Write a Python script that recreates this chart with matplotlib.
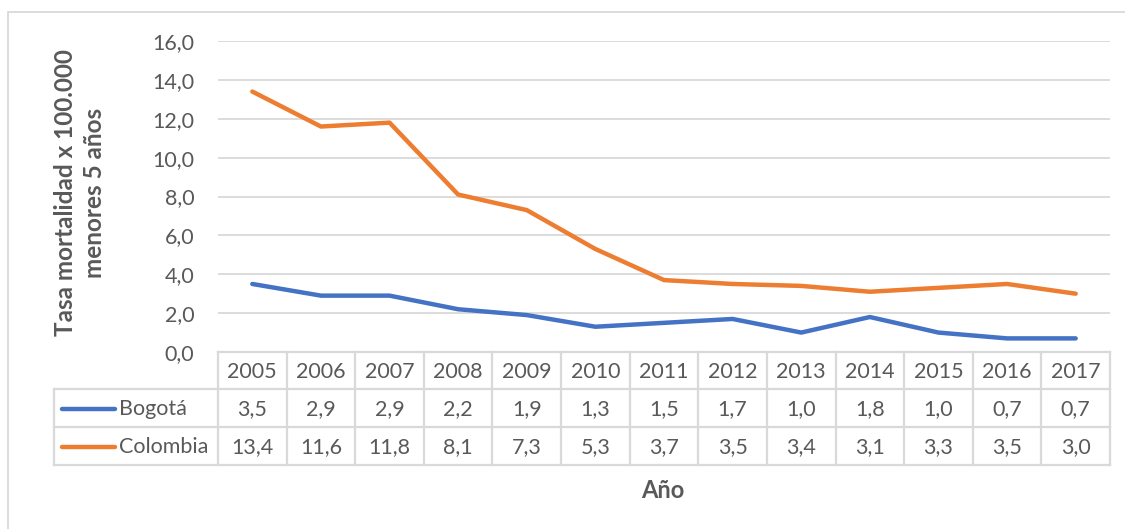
import matplotlib
matplotlib.use("Agg")
import matplotlib.pyplot as plt
import matplotlib.transforms as mtransforms
from matplotlib.lines import Line2D
from matplotlib.patches import Rectangle

years = ["2005", "2006", "2007", "2008", "2009", "2010", "2011",
         "2012", "2013", "2014", "2015", "2016", "2017"]
bogota = [3.5, 2.9, 2.9, 2.2, 1.9, 1.3, 1.5, 1.7, 1.0, 1.8, 1.0, 0.7, 0.7]
colombia = [13.4, 11.6, 11.8, 8.1, 7.3, 5.3, 3.7, 3.5, 3.4, 3.1, 3.3, 3.5, 3.0]
series_names = ["Bogotá", "Colombia"]
y_ticks = [0, 2, 4, 6, 8, 10, 12, 14, 16]
y_title = "Tasa mortalidad x 100.000\nmenores 5 años"
x_title = "Año"

BLUE = "#4472C4"
ORANGE = "#ED7D31"
TEXT = "#595959"
GRID = "#D9D9D9"
FONT = "Lato"

W, H = 1125, 529
fig = plt.figure(figsize=(W / 100, H / 100), dpi=100)


def fx(px):
    return px / W


def fy(py):
    return 1 - py / H


# outer chart border
fig.patches.append(Rectangle((fx(8), fy(600)), fx(1300), fy(12) - fy(600),
                             transform=fig.transFigure, fill=False,
                             edgecolor=GRID, linewidth=1.3))

left, right, top, bottom = 218, 1110, 41, 352
ax = fig.add_axes([fx(left), fy(bottom), fx(right - left), fy(top) - fy(bottom)])
x = list(range(len(years)))
ax.plot(x, bogota, color=BLUE, linewidth=3.2, solid_capstyle="round",
        solid_joinstyle="round", zorder=3)
ax.plot(x, colombia, color=ORANGE, linewidth=3.2, solid_capstyle="round",
        solid_joinstyle="round", zorder=3)
ax.set_xlim(-0.5, len(years) - 0.5)
ax.set_ylim(0, 16)
ax.set_yticks(y_ticks)
ax.set_yticklabels([f"{v:.1f}".replace(".", ",") for v in y_ticks],
                   fontsize=15.5, color=TEXT, family=FONT)
ax.tick_params(axis="y", length=0, pad=17)
ax.set_xticks([])
ax.grid(axis="y", color=GRID, linewidth=1.3)
ax.set_axisbelow(True)
for s in ax.spines.values():
    s.set_visible(False)

# data table below the plot
trans = mtransforms.blended_transform_factory(ax.transData, fig.transFigure)
row_edges = [352, 389, 427, 465]
lw = 1.6
n = len(years)
# horizontal lines
fig.add_artist(Line2D([-0.5, n - 0.5], [fy(row_edges[0])] * 2, transform=trans,
                      color=GRID, linewidth=lw))
for r in row_edges[1:]:
    fig.add_artist(Line2D([fx(54), fx(right)], [fy(r)] * 2,
                          transform=fig.transFigure, color=GRID, linewidth=lw))
# vertical lines
for i in range(n + 1):
    fig.add_artist(Line2D([i - 0.5, i - 0.5], [fy(row_edges[0]), fy(row_edges[-1])],
                          transform=trans, color=GRID, linewidth=lw))
fig.add_artist(Line2D([fx(54), fx(54)], [fy(row_edges[1]), fy(row_edges[-1])],
                      transform=fig.transFigure, color=GRID, linewidth=lw))

centers = [(row_edges[k] + row_edges[k + 1]) / 2 + 1 for k in range(3)]
for i, yr in enumerate(years):
    fig.text(i, fy(centers[0]), yr, transform=trans, ha="center", va="center",
             fontsize=15.5, color=TEXT, family=FONT)
for k, (vals, col, name) in enumerate(zip([bogota, colombia], [BLUE, ORANGE],
                                            series_names)):
    yc = fy(centers[k + 1])
    for i, v in enumerate(vals):
        fig.text(i, yc, f"{v:.1f}".replace(".", ","), transform=trans,
                 ha="center", va="center", fontsize=15.5, color=TEXT, family=FONT)
    fig.add_artist(Line2D([fx(62), fx(115)], [yc, yc], transform=fig.transFigure,
                          color=col, linewidth=3.2, solid_capstyle="round"))
    fig.text(fx(119), yc, name, ha="left", va="center", fontsize=15.5,
             color=TEXT, family=FONT)

# axis titles
fig.text(fx(80), fy(193), y_title, rotation=90, ha="center", va="center",
         multialignment="center", fontsize=17.5, fontweight="bold", color=TEXT,
         family=FONT, linespacing=1.35)
fig.text(fx(663), fy(490), x_title, ha="center", va="center", fontsize=17,
         fontweight="bold", color=TEXT, family=FONT)

fig.savefig("out.png", dpi=100)
